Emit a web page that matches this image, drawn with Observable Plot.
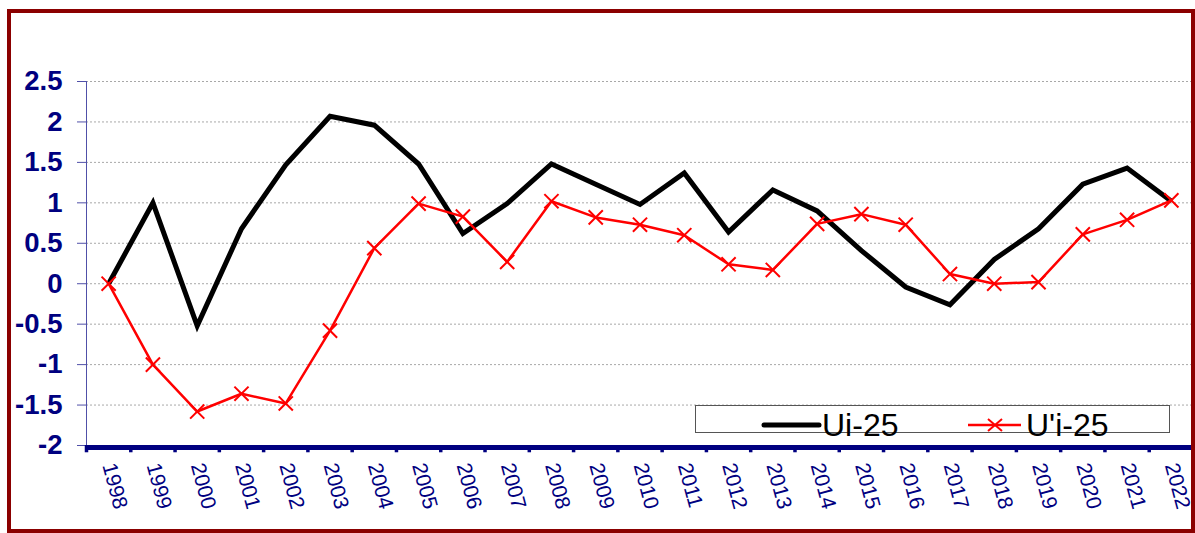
<!DOCTYPE html>
<html><head><meta charset="utf-8">
<script src="https://cdn.jsdelivr.net/npm/d3@7"></script>
<script src="https://cdn.jsdelivr.net/npm/@observablehq/plot@0.6"></script>
<style>
body{margin:0;background:#fff;}
#wrap{position:relative;width:1195px;height:533px;overflow:hidden;font-family:Arial,"Liberation Sans",sans-serif;background:#fff;}
#border{position:absolute;left:7px;top:9px;width:1188px;height:524px;border:4px solid #8B0000;box-sizing:border-box;pointer-events:none;}
#chart{position:absolute;left:0;top:0;}
#chart g[aria-label="y-axis tick label"] text{font-weight:bold;}
#legend{position:absolute;left:695px;top:405px;width:475px;height:28px;border:1px solid #555;box-sizing:border-box;background:#fff;}
.lg{position:absolute;}
.lt{position:absolute;font-size:32px;line-height:32px;color:#000;top:3px;white-space:nowrap;}
</style>
</head><body>
<div id="wrap">
<div id="chart"></div>
<div id="legend"></div>
<div id="border"></div>
</div>
<script>
const years = [1998,1999,2000,2001,2002,2003,2004,2005,2006,2007,2008,2009,2010,2011,2012,2013,2014,2015,2016,2017,2018,2019,2020,2021,2022];
const ui  = [0, 1.0, -0.52, 0.68, 1.47, 2.07, 1.96, 1.48, 0.62, 0.99, 1.48, 1.23, 0.98, 1.37, 0.64, 1.16, 0.90, 0.41, -0.04, -0.26, 0.30, 0.68, 1.23, 1.43, 1.02];
const uip = [0, -1.0, -1.58, -1.36, -1.48, -0.58, 0.44, 0.99, 0.83, 0.27, 1.02, 0.82, 0.73, 0.60, 0.24, 0.17, 0.74, 0.86, 0.73, 0.12, 0.0, 0.02, 0.61, 0.79, 1.03];
const yTicks = [-2, -1.5, -1, -0.5, 0, 0.5, 1, 1.5, 2, 2.5];
const seriesNames = ["Ui-25", "U'i-25"];

const data = years.map((yr, i) => ({year: yr, ui: ui[i], uip: uip[i]}));
const navy = "#000080";

const chart = Plot.plot({
  width: 1195, height: 533,
  marginLeft: 86, marginRight: 2, marginTop: 81, marginBottom: 88,
  x: {type: "linear", domain: [years[0] - 0.5, years[years.length - 1] + 0.5]},
  y: {domain: [-2, 2.5]},
  style: {fontFamily: "Arial, 'Liberation Sans', sans-serif", background: "transparent", overflow: "visible"},
  marks: [
    Plot.ruleY(yTicks.filter(d => d > -2), {stroke: "#a8a8a8", strokeDasharray: "2,2", strokeWidth: 1}),
    Plot.frame({anchor: "left", stroke: "#5050a8", strokeWidth: 1}),
    Plot.axisY({ticks: yTicks, tickSize: 9, tickPadding: 15, fontSize: 27.5, fontWeight: "bold", fill: navy, stroke: "#5050a8", label: null, tickFormat: d => String(d)}),
    Plot.ruleY([-2], {stroke: navy, strokeWidth: 5, dy: 2}),
    Plot.ruleX([...years.map(y => y - 0.5), years[years.length - 1] + 0.5], {y1: -2, y2: -2.09, stroke: navy, strokeWidth: 3.5}),
    Plot.axisX({ticks: years, tickFormat: d => String(d), tickSize: 0, tickPadding: 18, tickRotate: 75, fontSize: 21, fill: navy, label: null}),
    Plot.line(data, {x: "year", y: "ui", stroke: "#000", strokeWidth: 5, strokeLinejoin: "miter", strokeMiterlimit: 4, strokeLinecap: "butt"}),
    Plot.line(data, {x: "year", y: "uip", stroke: "#ff0000", strokeWidth: 2.5, strokeLinejoin: "miter"}),
    Plot.dot(data, {x: "year", y: "uip", symbol: "times", r: 6.5, stroke: "#ff0000", strokeWidth: 2})
  ]
});
document.getElementById("chart").appendChild(chart);

// legend (positions relative to legend box)
const lg = document.getElementById("legend");
lg.innerHTML = `
<svg class="lg" style="left:0;top:0" width="475" height="28">
  <line x1="68" y1="19" x2="123" y2="19" stroke="#000" stroke-width="5" stroke-linecap="round"/>
  <line x1="272" y1="19" x2="325" y2="19" stroke="#ff0000" stroke-width="2.5"/>
  <path d="M292,13L306,25M306,13L292,25" stroke="#ff0000" stroke-width="2"/>
</svg>
<div class="lt" style="left:126px">${seriesNames[0]}</div>
<div class="lt" style="left:330px">${seriesNames[1]}</div>`;
</script>
</body></html>
